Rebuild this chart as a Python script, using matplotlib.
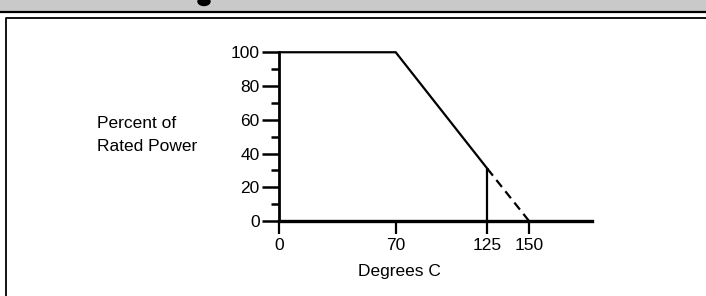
import matplotlib
matplotlib.use('Agg')
import matplotlib.pyplot as plt
from matplotlib.patches import Ellipse
from matplotlib.lines import Line2D

# derating curve
temp_solid = [0, 70, 125]
power_solid = [100, 100, 31]
temp_dash = [125, 150]
power_dash = [31, 0]
temp_drop = [125, 125]
power_drop = [31, 0]

xticks = [0, 70, 125, 150]
yticks = [0, 20, 40, 60, 80, 100]
yminor = [10, 30, 50, 70, 90]

plt.rcParams['font.family'] = ['Liberation Sans Narrow', 'Liberation Sans', 'DejaVu Sans']

fig = plt.figure(figsize=(7.06, 2.96), dpi=100)

# grey header strip at the top (title is cut off, only a blob of it shows)
hdr = fig.add_axes([0, 1 - 11/296, 1, 11/296])
hdr.set_facecolor('#c9c9c9')
hdr.set_xlim(0, 706)
hdr.set_ylim(0, 11)
hdr.set_xticks([])
hdr.set_yticks([])
for s in hdr.spines.values():
    s.set_visible(False)
hdr.add_patch(Ellipse((204, 9.5), 12, 8, color='black'))
fig.add_artist(Line2D([0, 1], [1 - 12/296, 1 - 12/296], color='black', lw=1.6,
                      transform=fig.transFigure))
# box frame
fig.add_artist(Line2D([6/706, 6/706, 1], [0, 1 - 18/296, 1 - 18/296], color='black',
                      lw=1.3, transform=fig.transFigure))

ax = fig.add_axes([0.348, 0.1963, 0.5194, 0.6557])
ax.set_xlim(-20, 200)
ax.set_ylim(-10, 105)

ax.plot(temp_solid, power_solid, color='black', lw=1.6, solid_joinstyle='miter')
ax.plot(temp_drop, power_drop, color='black', lw=1.6)
ax.plot(temp_dash, power_dash, color='black', lw=1.6, linestyle=(0, (4, 2.5)))

for s in ['top', 'right']:
    ax.spines[s].set_visible(False)
ax.spines['left'].set_bounds(0, 100)
ax.spines['bottom'].set_bounds(0, 188)
ax.spines['left'].set_linewidth(2.0)
ax.spines['bottom'].set_linewidth(2.4)
ax.spines['left'].set_position(('data', 0))
ax.spines['bottom'].set_position(('data', 0))

ax.set_xticks(xticks)
ax.set_yticks(yticks)
ax.set_yticks(yminor, minor=True)
ax.tick_params(axis='y', which='major', direction='out', length=12, width=1.8,
               pad=2, labelsize=12.5)
ax.tick_params(axis='y', which='minor', direction='out', length=6, width=1.8)
ax.tick_params(axis='x', which='major', direction='out', length=9, width=1.6,
               pad=3, labelsize=12.5)

ax.text(72, -30, 'Degrees C', ha='center', va='center', fontsize=12.5, clip_on=False)
ax.text(-109, 51, 'Percent of\nRated Power', ha='left', va='center', fontsize=12.5,
        linespacing=1.7, clip_on=False)

fig.savefig('out.png', dpi=100)
